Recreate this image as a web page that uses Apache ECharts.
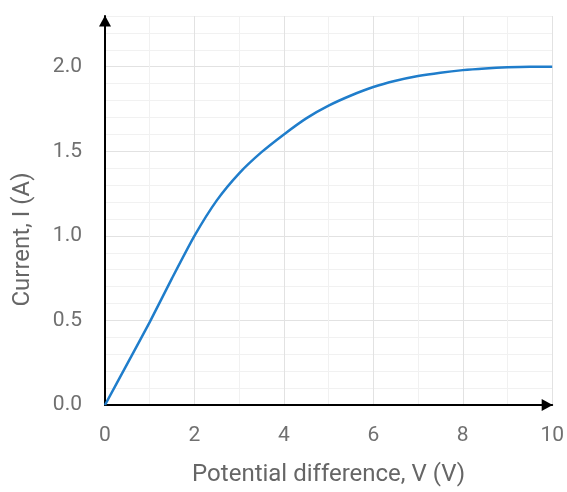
<!DOCTYPE html>
<html>
<head>
<meta charset="utf-8">
<script src="https://cdn.jsdelivr.net/npm/echarts@6/dist/echarts.min.js"></script>
<style>
  html, body { margin: 0; padding: 0; background: #fff; }
  #chart { width: 567px; height: 492px; }
</style>
</head>
<body>
<div id="chart"></div>
<script>
// potential difference (V) and current (A)
var voltage = [0, 0.5, 1, 1.5, 2, 2.5, 3, 3.5, 4, 4.5, 5, 5.5, 6, 6.5, 7, 7.5, 8, 8.5, 9, 9.5, 10];
var current = [0, 0.245, 0.49, 0.75, 1.0, 1.21, 1.37, 1.495, 1.6, 1.695, 1.77, 1.83, 1.88, 1.917, 1.945, 1.965, 1.98, 1.99, 1.997, 2.0, 2.0];

var xName = 'Potential difference, V (V)';
var yName = 'Current, I (A)';

var points = [];
for (var i = 0; i < voltage.length; i++) {
    points.push([voltage[i], current[i]]);
}

var chart = echarts.init(document.getElementById('chart'));

var major = '#e2e2e2';
var minor = '#f1f1f1';

option = {
    animation: false,
    textStyle: { fontFamily: 'Roboto' },
    grid: {
        left: 105,
        right: 12,
        top: 16,
        bottom: 85,
        containLabel: false
    },
    xAxis: {
        type: 'value',
        min: 0,
        max: 10,
        interval: 1,
        name: xName,
        nameLocation: 'middle',
        nameGap: 58,
        nameTextStyle: { fontSize: 24, color: '#666' },
        axisLine: {
            lineStyle: { color: '#000', width: 2 },
            symbol: ['none', 'triangle'],
            symbolSize: [12, 11],
            symbolOffset: [0, -5]
        },
        axisTick: { show: false },
        axisLabel: {
            fontSize: 21,
            color: '#707070',
            margin: 20,
            formatter: function (v) {
                return v % 2 === 0 ? String(v) : '';
            }
        },
        splitLine: {
            show: true,
            lineStyle: { color: [major, minor], width: 1 }
        }
    },
    yAxis: {
        type: 'value',
        min: 0,
        max: 2.3,
        interval: 0.1,
        name: yName,
        nameLocation: 'middle',
        nameGap: 70,
        nameRotate: 90,
        nameTextStyle: { fontSize: 24, color: '#666', padding: [0, 58, 0, 0] },
        axisLine: {
            lineStyle: { color: '#000', width: 2 },
            symbol: ['none', 'triangle'],
            symbolSize: [12, 11],
            symbolOffset: [0, -5]
        },
        axisTick: { show: false },
        axisLabel: {
            fontSize: 21,
            color: '#707070',
            margin: 23,
            formatter: function (v) {
                var k = Math.round(v * 10);
                return (k % 5 === 0 && k <= 20) ? (k / 10).toFixed(1) : '';
            }
        },
        splitLine: {
            show: true,
            lineStyle: { color: [major, minor, minor, minor, minor], width: 1 }
        }
    },
    series: [{
        type: 'line',
        data: points,
        smooth: 0.2,
        showSymbol: false,
        lineStyle: { color: '#1f7dcb', width: 2.5 },
        z: 5
    }]
};

chart.setOption(option);
</script>
</body>
</html>
